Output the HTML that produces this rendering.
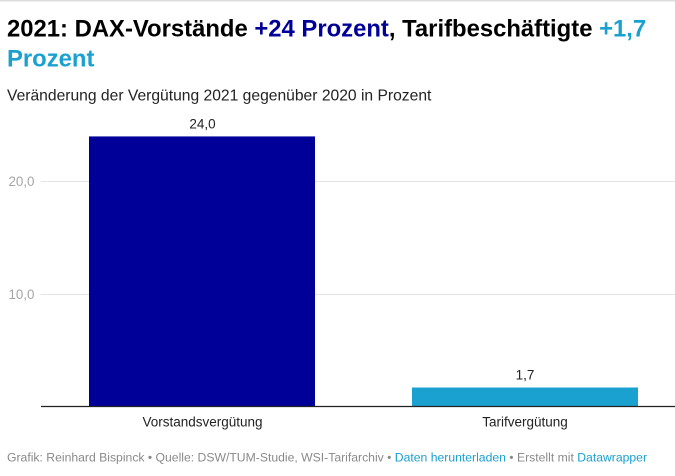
<!DOCTYPE html>
<html>
<head>
<meta charset="utf-8">
<style>
  html, body { margin: 0; padding: 0; background: #fff; }
  body { width: 675px; height: 476px; overflow: hidden; }
  svg { display: block; }
  text { font-family: "Liberation Sans", Arial, sans-serif; }
</style>
</head>
<body>
<svg width="675" height="476" viewBox="0 0 675 476" xmlns="http://www.w3.org/2000/svg">
  <rect x="0" y="0" width="675" height="476" fill="#fff"/>
  <rect x="0" y="0" width="675" height="1.5" fill="#dddddd"/>

  <!-- Title -->
  <text x="7" y="36.7" font-size="23.85" font-weight="bold" fill="#000">2021: DAX-Vorstände <tspan fill="#000099">+24 Prozent</tspan>, Tarifbeschäftigte <tspan fill="#1ba1d0">+1,7</tspan></text>
  <text x="7" y="66.7" font-size="23.85" font-weight="bold" fill="#1ba1d0">Prozent</text>

  <!-- Subtitle -->
  <text x="7" y="100.7" font-size="15.65" fill="#222">Veränderung der Vergütung 2021 gegenüber 2020 in Prozent</text>

  <!-- Gridlines -->
  <line x1="41" y1="181.5" x2="675" y2="181.5" stroke="#e4e4e4" stroke-width="1"/>
  <line x1="41" y1="294.5" x2="675" y2="294.5" stroke="#e4e4e4" stroke-width="1"/>

  <!-- Tick labels -->
  <text x="34.5" y="186" font-size="13.4" fill="#a6a6a6" text-anchor="end">20,0</text>
  <text x="34.5" y="299" font-size="13.4" fill="#a6a6a6" text-anchor="end">10,0</text>

  <!-- Bars -->
  <rect x="89" y="136" width="226" height="270.5" fill="#000099"/>
  <rect x="89" y="136" width="226" height="1" fill="#6c6cc4"/>
  <rect x="412" y="387.5" width="226" height="19" fill="#1ba1d0"/>

  <!-- Baseline -->
  <line x1="41" y1="406.5" x2="675" y2="406.5" stroke="#222" stroke-width="1.2"/>

  <!-- Value labels -->
  <text x="202.5" y="128.3" font-size="13.5" fill="#222" text-anchor="middle">24,0</text>
  <text x="525" y="379.3" font-size="13.5" fill="#222" text-anchor="middle">1,7</text>

  <!-- Category labels -->
  <text x="202.5" y="426.7" font-size="13.5" fill="#222" text-anchor="middle">Vorstandsvergütung</text>
  <text x="525" y="426.7" font-size="13.5" fill="#222" text-anchor="middle">Tarifvergütung</text>

  <!-- Footer -->
  <text x="7" y="461.5" font-size="12.2" fill="#8a8a8a">Grafik: Reinhard Bispinck • Quelle: DSW/TUM-Studie, WSI-Tarifarchiv • <tspan fill="#1a9fd0">Daten herunterladen</tspan> • Erstellt mit <tspan fill="#1a9fd0">Datawrapper</tspan></text>
</svg>
</body>
</html>
